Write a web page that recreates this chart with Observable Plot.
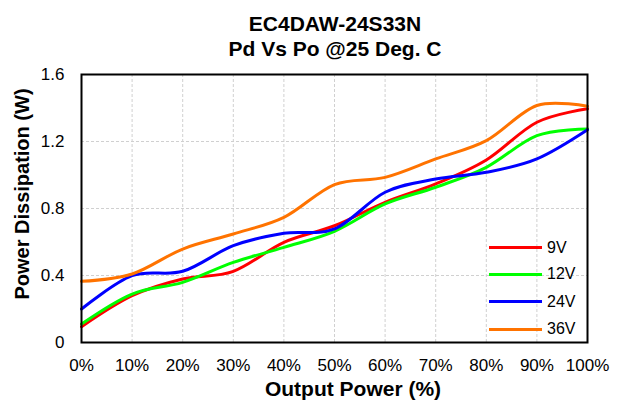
<!DOCTYPE html>
<html>
<head>
<meta charset="utf-8">
<script src="https://cdn.jsdelivr.net/npm/d3@7"></script>
<script src="https://cdn.jsdelivr.net/npm/@observablehq/plot@0.6"></script>
<style>
  html, body { margin: 0; padding: 0; background: #fff; }
  #wrap { position: relative; width: 622px; height: 403px; font-family: "Liberation Sans", Arial, sans-serif; color: #000; }
  #chart { position: absolute; left: 0; top: 0; }
  .title { position: absolute; left: 0; top: 11px; width: 670px; text-align: center; font-weight: bold; font-size: 21px; line-height: 25px; white-space: nowrap; }
  .xlabel { position: absolute; left: 153px; width: 400px; top: 379px; text-align: center; font-weight: bold; font-size: 21px; line-height: 20px; white-space: nowrap; }
  .ylabel { position: absolute; left: -178px; width: 400px; top: 183.5px; text-align: center; font-weight: bold; font-size: 20px; line-height: 20px; white-space: nowrap; transform: rotate(-90deg); transform-origin: 50% 50%; }
  .leg-line { position: absolute; left: 489px; width: 53px; height: 3px; }
  .leg-text { position: absolute; left: 547px; font-size: 16px; line-height: 16px; white-space: nowrap; }
</style>
</head>
<body>
<div id="wrap">
  <div id="chart"></div>
  <div class="title">EC4DAW-24S33N<br>Pd Vs Po @25 Deg. C</div>
  <div class="ylabel">Power Dissipation (W)</div>
  <div class="xlabel">Output Power (%)</div>
  <div id="legend"></div>
</div>
<script>
// Data
const outputPower = [0, 10, 20, 30, 40, 50, 60, 70, 80, 90, 100];
const seriesNames = ["9V", "12V", "24V", "36V"];
const seriesColors = ["#ff0000", "#00ff00", "#0000ff", "#ff7300"];
const pd9V  = [0.094, 0.279, 0.379, 0.425, 0.598, 0.697, 0.837, 0.947, 1.090, 1.315, 1.395];
const pd12V = [0.110, 0.289, 0.359, 0.478, 0.568, 0.664, 0.827, 0.927, 1.046, 1.235, 1.275];
const pd24V = [0.200, 0.399, 0.425, 0.578, 0.652, 0.678, 0.897, 0.976, 1.016, 1.096, 1.270];
const pd36V = [0.365, 0.409, 0.558, 0.648, 0.747, 0.943, 0.986, 1.096, 1.205, 1.415, 1.410];
const xTicks = [0, 10, 20, 30, 40, 50, 60, 70, 80, 90, 100];
const yTicks = [0, 0.4, 0.8, 1.2, 1.6];

const seriesValues = [pd9V, pd12V, pd24V, pd36V];
const rows = [];
seriesNames.forEach((s, i) => {
  outputPower.forEach((x, j) => rows.push({x, v: seriesValues[i][j], s}));
});

const chart = Plot.plot({
  width: 622,
  height: 403,
  marginTop: 74,
  marginBottom: 61,
  marginLeft: 81,
  marginRight: 35,
  style: {fontSize: "17px", fontFamily: "'Liberation Sans', Arial, sans-serif", color: "#000", background: "transparent"},
  x: {domain: [0, 100]},
  y: {domain: [0, 1.6]},
  color: {domain: seriesNames, range: seriesColors},
  marks: [
    Plot.gridX(xTicks, {stroke: "#d0d0d0", strokeOpacity: 1, strokeDasharray: "3,2"}),
    Plot.gridY(yTicks, {stroke: "#d0d0d0", strokeOpacity: 1, strokeDasharray: "3,2"}),
    Plot.axisX({ticks: xTicks, tickSize: 0, tickPadding: 16, tickFormat: d => d + "%", label: null}),
    Plot.axisY({ticks: yTicks, tickSize: 0, tickPadding: 17, tickFormat: d => String(d), label: null}),
    Plot.line(rows, {x: "x", y: "v", z: "s", stroke: "s", strokeWidth: 3, curve: "cardinal"}),
    Plot.frame({stroke: "#000", strokeWidth: 2})
  ]
});
document.getElementById("chart").appendChild(chart);

// Legend
const legendY = [247.7, 274.3, 301.7, 329];
const legend = document.getElementById("legend");
seriesNames.forEach((s, i) => {
  const ln = document.createElement("div");
  ln.className = "leg-line";
  ln.style.top = (legendY[i] - 1.5) + "px";
  ln.style.background = seriesColors[i];
  legend.appendChild(ln);
  const tx = document.createElement("div");
  tx.className = "leg-text";
  tx.style.top = (legendY[i] - 8) + "px";
  tx.textContent = s;
  legend.appendChild(tx);
});
</script>
</body>
</html>
